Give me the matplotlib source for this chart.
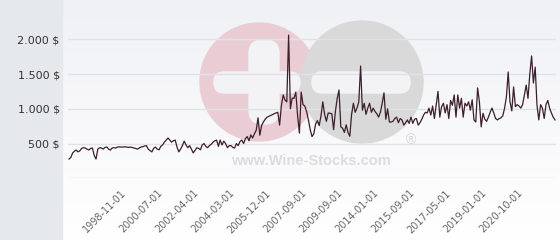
import numpy as np
import matplotlib
matplotlib.use("Agg")
import matplotlib.pyplot as plt
from matplotlib.patches import Rectangle, Circle, FancyBboxPatch

# monthly prices (USD) from left to right
prices = [
    277, 300, 364, 390, 407, 380, 395, 430, 440, 436,
    420, 407, 430, 436, 330, 277, 420, 440, 436, 420,
    445, 450, 420, 407, 436, 440, 436, 450, 452, 449,
    450, 452, 450, 445, 449, 445, 436, 430, 420, 436,
    449, 455, 465, 470, 420, 400, 380, 430, 450, 420,
    410, 460, 480, 520, 550, 580, 550, 520, 540, 550,
    450, 380, 420, 470, 535, 480, 440, 470, 420, 365,
    400, 440, 430, 410, 480, 500, 460, 440, 470, 490,
    520, 540, 550, 460, 550, 480, 535, 500, 440, 470,
    470, 445, 435, 500, 470, 530, 550, 500, 570, 600,
    540, 625, 580, 640, 690, 870, 620, 760, 810, 850,
    880, 890, 905, 915, 930, 940, 950, 765, 1050, 1200,
    1125, 1100, 2060, 1000, 1155, 1150, 1240, 900, 650, 1240,
    1060, 1040, 960, 840, 700, 600, 640, 780, 830, 760,
    900, 1100, 920, 820, 940, 935, 930, 700, 960, 1150,
    1270, 740, 720, 660, 770, 660, 605, 920, 1080, 950,
    1010, 1100, 1615, 980, 1080, 920, 1010, 1080, 950, 1010,
    960, 930, 880, 950, 1080, 1230, 850, 1000, 810, 810,
    820, 860, 880, 800, 860, 840, 765, 800, 840, 790,
    880, 790, 850, 860, 765, 800, 850, 910, 950, 940,
    1010, 910, 1040, 860, 1060, 1250, 880, 1030, 1080, 940,
    1060, 860, 1120, 1050, 1200, 880, 1200, 1010, 1150, 880,
    1080, 1040, 1100, 980, 1130, 840, 810, 1300, 1100, 740,
    935, 850, 820, 880, 950, 1010, 940, 860, 840, 860,
    870, 900, 1010, 1170, 1530, 1100, 970, 1315, 1030, 1060,
    1040, 1010, 1060, 1200, 1340, 1150, 1500, 1760, 1370, 1600,
    1050, 840, 1060, 1010, 860, 1060, 1120, 1010, 940, 880,
    840,
]
tick_labels = ["1998-11-01", "2000-07-01", "2002-04-01", "2004-03-01",
               "2005-12-01", "2007-09-01", "2009-09-01", "2014-01-01",
               "2015-09-01", "2017-05-01", "2019-01-01", "2020-10-01"]
y_ticks = [0, 500, 1000, 1500, 2000]

W, H = 560, 240
fig = plt.figure(figsize=(W / 100, H / 100), dpi=100)

# background layer in pixel coordinates
bg = fig.add_axes([0, 0, 1, 1])
bg.axis("off")
grad = np.linspace(0, 1, 100).reshape(-1, 1)
bg.imshow(grad, extent=(62, W, H, 0), aspect="auto", zorder=0,
          cmap=matplotlib.colors.LinearSegmentedColormap.from_list(
              "bgfade", ["#f0f1f5", "#ffffff"]))
bg.add_patch(Rectangle((0, 0), 62, H, color="#e6e9ec", zorder=1))

# watermark
bg.add_patch(Circle((259, 82), 59, color="#eacdd4", zorder=2))
bg.add_patch(Circle((362, 82), 61, color="#d9d9da", zorder=2))
bg.add_patch(FancyBboxPatch((249, 40), 30, 84, boxstyle="round,pad=0,rounding_size=14",
                            color="#f3f3f6", zorder=3))
bg.add_patch(FancyBboxPatch((214, 72), 86, 21, boxstyle="round,pad=0,rounding_size=10",
                            color="#f3f3f6", zorder=3))
bg.add_patch(FancyBboxPatch((312, 72), 98, 21, boxstyle="round,pad=0,rounding_size=10",
                            color="#f3f3f6", zorder=3))
bg.text(311, 161, "www.Wine-Stocks.com", ha="center", va="center", fontsize=10.5,
        fontweight="bold", family="Liberation Sans", color="#dcdcde", zorder=3)
bg.text(411, 140, "\u00ae", ha="center", va="center", fontsize=10,
        family="Liberation Sans", color="#d6d6d8", zorder=3)
bg.set_xlim(0, W)
bg.set_ylim(H, 0)

# main chart
ax = fig.add_axes([68 / W, 61.7 / H, (556 - 68) / W, (228.5 - 61.7) / H])
ax.patch.set_alpha(0)
x = np.arange(len(prices))
ax.plot(x, prices, color="#3b1f2b", lw=0.9, zorder=3)

ax.set_xlim(-0.56, len(prices) - 1 + 0.56)
ax.set_ylim(0, 2400)
ax.set_yticks(y_ticks)
ax.set_yticklabels(["" if v == 0 else f"{v:,} $".replace(",", ".") for v in y_ticks],
                   fontsize=8, color="#333333")
ax.set_xticks(29 + 20 * np.arange(len(tick_labels)))
ax.set_xticklabels(tick_labels, rotation=45, ha="right", rotation_mode="anchor",
                   fontsize=7, color="#666666")
ax.tick_params(axis="both", length=0)
ax.tick_params(axis="y", pad=6)
ax.tick_params(axis="x", pad=7)
ax.yaxis.grid(True, color="#e1e2e7", lw=1)
ax.set_axisbelow(True)
for s in ax.spines.values():
    s.set_visible(False)

fig.savefig("out.png", dpi=100)
